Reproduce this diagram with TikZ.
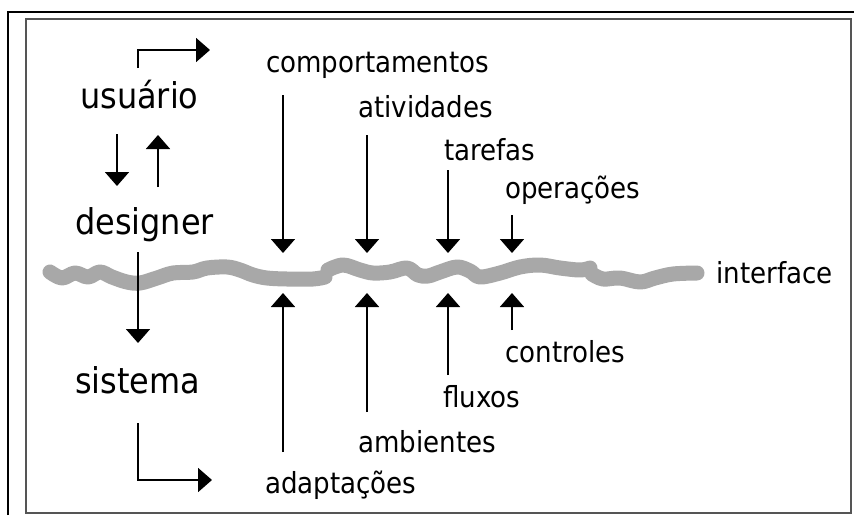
\documentclass[tikz,border=0pt]{standalone}
\usepackage{fontspec}
\setmainfont{DejaVu Sans}[FakeStretch=0.9]
\usetikzlibrary{arrows.meta}
\definecolor{squiggray}{HTML}{A8A8A8}
\definecolor{framegray}{HTML}{555555}
\tikzset{
  lbl/.style={font=\fontsize{29}{29}\selectfont, inner sep=0pt, anchor=base west},
  big/.style={font=\fontsize{35.5}{35.5}\selectfont, inner sep=0pt, anchor=base west},
  arr/.style={line width=1.8pt, -{Triangle[width=24pt,length=14pt]}},
  squig/.style={line width=15pt, draw=squiggray, line cap=round, line join=round},
}
\begin{document}
\begin{tikzpicture}[x=1pt,y=-1pt]
\useasboundingbox (0,0) rectangle (854,515);
\fill[white] (0,0) rectangle (854,515);
% frames
\draw[line width=2.6pt] (8,515) -- (8,12) -- (854,12);
\draw[framegray, line width=2pt] (25.5,18.5) rectangle (850.5,513);
% interface squiggle
\draw[squig] plot[smooth, tension=0.6] coordinates {(50,272) (62,278) (75,273) (88,277) (100,272) (112,277) (127,282) (140,283) (157,278) (173,273) (193,272) (207,268) (227,267) (240,270) (253,275) (267,278) (287,279) (313,279) (325,277)};
\draw[squig] plot[smooth, tension=0.6] coordinates {(328,270) (343,265) (360,270) (373,273) (390,272) (407,268) (418,275) (428,276) (440,272) (457,267) (470,271) (480,277) (500,273) (520,267) (540,265) (560,268) (580,270) (590,268)};
\draw[squig] plot[smooth, tension=0.6] coordinates {(592,274) (603,279) (620,278) (640,282) (655,278) (673,274) (697,273)};
% texts
\node[big] (usu) at (80,108) {usuário};
\node[big] (des) at (75,234) {designer};
\node[big] (sis) at (75,393) {sistema};
\node[lbl] (comp) at (266,72) {comportamentos};
\node[lbl] (ativ) at (358,117) {atividades};
\node[lbl] (tar) at (444,160) {tarefas};
\node[lbl] (oper) at (505,198) {operações};
\node[lbl] (intf) at (716,283) {interface};
\node[lbl] (ctrl) at (505,362) {controles};
\node[lbl] (flux) at (443,407) {fluxos};
\node[lbl] (amb) at (358,452) {ambientes};
\node[lbl] (adap) at (265,493) {adaptações};
% coordinates
\coordinate (u1s) at (138,68);
\coordinate (u1m) at (138,50);
\coordinate (u1e) at (210,50);
\coordinate (dn1) at (117,134);
\coordinate (dn2) at (117,186);
\coordinate (up1) at (158,187);
\coordinate (up2) at (158,135);
\coordinate (ds1) at (138,252);
\coordinate (ds2) at (138,343);
\coordinate (s1) at (138,423);
\coordinate (s2) at (138,480);
\coordinate (s3) at (212,480);
\coordinate (t1a) at (283,95);  \coordinate (t1b) at (283,253);
\coordinate (t2a) at (367,135); \coordinate (t2b) at (367,253);
\coordinate (t3a) at (448,170); \coordinate (t3b) at (448,253);
\coordinate (t4a) at (512,215); \coordinate (t4b) at (512,253);
\coordinate (b1a) at (283,452); \coordinate (b1b) at (283,293);
\coordinate (b2a) at (367,412); \coordinate (b2b) at (367,293);
\coordinate (b3a) at (448,375); \coordinate (b3b) at (448,293);
\coordinate (b4a) at (512,330); \coordinate (b4b) at (512,293);
% arrows
\draw[arr] (u1s) -- (u1m) -- (u1e);
\draw[arr] (dn1) -- (dn2);
\draw[arr] (up1) -- (up2);
\draw[arr] (ds1) -- (ds2);
\draw[arr] (s1) -- (s2) -- (s3);
\draw[arr] (t1a) -- (t1b);
\draw[arr] (t2a) -- (t2b);
\draw[arr] (t3a) -- (t3b);
\draw[arr] (t4a) -- (t4b);
\draw[arr] (b1a) -- (b1b);
\draw[arr] (b2a) -- (b2b);
\draw[arr] (b3a) -- (b3b);
\draw[arr] (b4a) -- (b4b);
\end{tikzpicture}
\end{document}
